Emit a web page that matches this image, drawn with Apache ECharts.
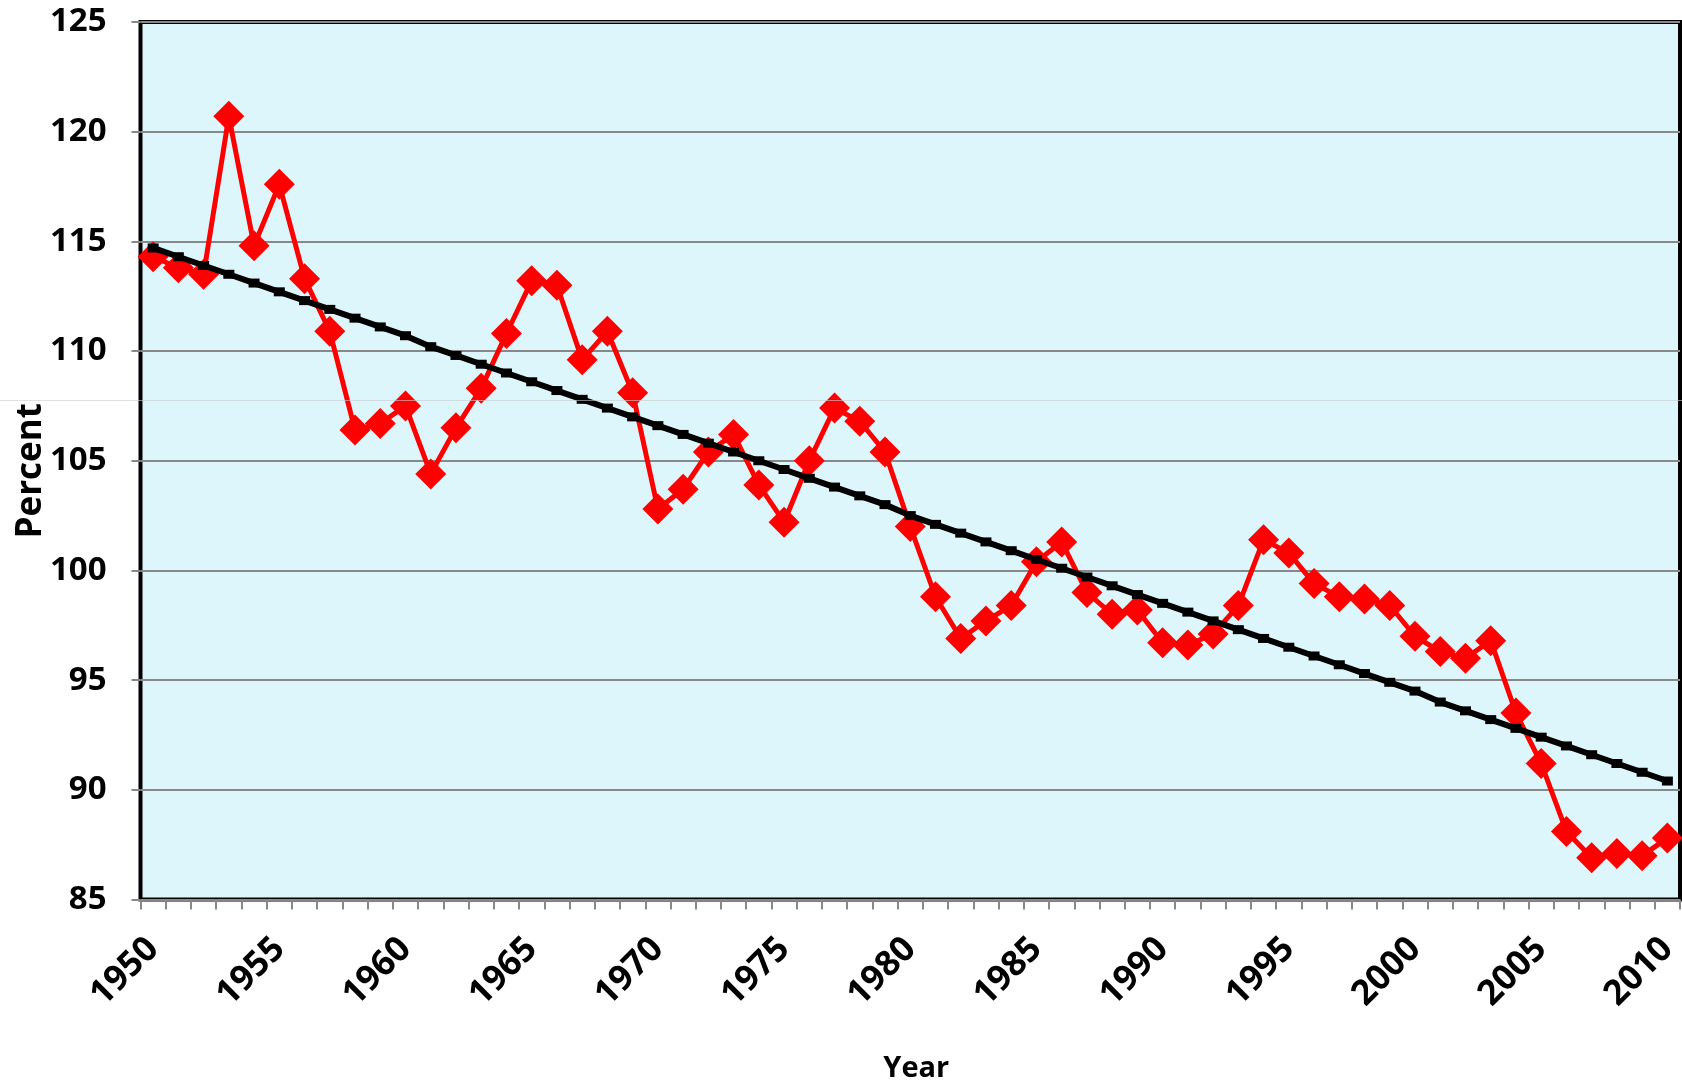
<!DOCTYPE html>
<html>
<head>
<meta charset="utf-8">
<script src="https://cdn.jsdelivr.net/npm/echarts@6/dist/echarts.min.js"></script>
<style>
html,body{margin:0;padding:0;background:#fff;}
#chart{width:1682px;height:1083px;}
</style>
</head>
<body>
<div id="chart"></div>
<script>
var years = ['1950','1951','1952','1953','1954','1955','1956','1957','1958','1959',
             '1960','1961','1962','1963','1964','1965','1966','1967','1968','1969',
             '1970','1971','1972','1973','1974','1975','1976','1977','1978','1979',
             '1980','1981','1982','1983','1984','1985','1986','1987','1988','1989',
             '1990','1991','1992','1993','1994','1995','1996','1997','1998','1999',
             '2000','2001','2002','2003','2004','2005','2006','2007','2008','2009','2010'];

var percentValues = [114.3,113.8,113.5,120.7,114.8,117.6,113.3,110.9,106.4,106.7,
                     107.5,104.4,106.5,108.3,110.8,113.2,113.0,109.6,110.9,108.1,
                     102.8,103.7,105.4,106.2,103.9,102.2,105.0,107.4,106.8,105.4,
                     102.0,98.8,96.9,97.7,98.4,100.4,101.3,99.0,98.0,98.2,
                     96.7,96.6,97.1,98.4,101.4,100.8,99.4,98.8,98.7,98.4,
                     97.0,96.3,96.0,96.8,93.5,91.2,88.1,86.9,87.1,87.0,87.8];

var trendValues = [114.7,114.3,113.9,113.5,113.1,112.7,112.3,111.9,111.5,111.1,
                   110.7,110.2,109.8,109.4,109.0,108.6,108.2,107.8,107.4,107.0,
                   106.6,106.2,105.8,105.4,105.0,104.6,104.2,103.8,103.4,103.0,
                   102.5,102.1,101.7,101.3,100.9,100.5,100.1,99.7,99.3,98.9,
                   98.5,98.1,97.7,97.3,96.9,96.5,96.1,95.7,95.3,94.9,
                   94.5,94.0,93.6,93.2,92.8,92.4,92.0,91.6,91.2,90.8,90.4];

var yTicks = {min: 85, max: 125, interval: 5};

var FONT = '"Open Sans", "Liberation Sans", sans-serif';

var chart = echarts.init(document.getElementById('chart'), null, {renderer: 'canvas'});
chart.setOption({
  animation: false,
  backgroundColor: '#ffffff',
  grid: {
    left: 140.5, right: 2, top: 22, bottom: 183.5,
    containLabel: false,
    outerBoundsMode: 'none',
    show: true,
    backgroundColor: '#DDF6FC',
    borderColor: '#000000',
    borderWidth: 4
  },
  xAxis: {
    type: 'category',
    data: years,
    boundaryGap: true,
    name: 'Year',
    nameLocation: 'middle',
    nameGap: 155,
    nameMoveOverlap: false,
    nameTextStyle: {fontFamily: FONT, fontWeight: 'bold', fontSize: 29, color: '#000', padding: [0,0,0,12]},
    axisLine: {show: false},
    axisTick: {show: true, interval: 0, length: 10, lineStyle: {color: '#888', width: 2}},
    axisLabel: {interval: 4, rotate: 45, margin: 44, fontFamily: FONT, fontWeight: 'bold', fontSize: 35, color: '#000'},
    splitLine: {show: false}
  },
  yAxis: {
    type: 'value',
    min: yTicks.min, max: yTicks.max, interval: yTicks.interval,
    name: 'Percent',
    nameLocation: 'middle',
    nameRotate: 90,
    nameGap: 92,
    nameMoveOverlap: false,
    nameTextStyle: {fontFamily: FONT, fontWeight: 'bold', fontSize: 35, color: '#000', padding: [0,20,0,0]},
    axisLine: {show: false},
    axisTick: {show: true, length: 9, lineStyle: {color: '#888', width: 2}},
    axisLabel: {margin: 34, fontFamily: FONT, fontWeight: 'bold', fontSize: 33, color: '#000'},
    splitLine: {show: true, lineStyle: {color: '#888888', width: 2}}
  },
  series: [
    {
      name: 'Percent',
      type: 'line',
      data: percentValues,
      symbol: 'diamond',
      symbolSize: 31,
      showAllSymbol: true,
      lineStyle: {color: '#FF0000', width: 5},
      itemStyle: {color: '#FF0000'},
      z: 3
    },
    {
      name: 'Trend',
      type: 'line',
      data: trendValues,
      symbol: 'rect',
      symbolSize: [11, 9],
      showAllSymbol: true,
      lineStyle: {color: '#000000', width: 6},
      itemStyle: {color: '#000000'},
      z: 4
    }
  ],
  graphic: [
    {type: 'line', shape: {x1: 0, y1: 400.5, x2: 1682, y2: 400.5}, style: {stroke: 'rgba(200,205,205,0.6)', lineWidth: 1}, z: 100, silent: true}
  ]
});
</script>
</body>
</html>
